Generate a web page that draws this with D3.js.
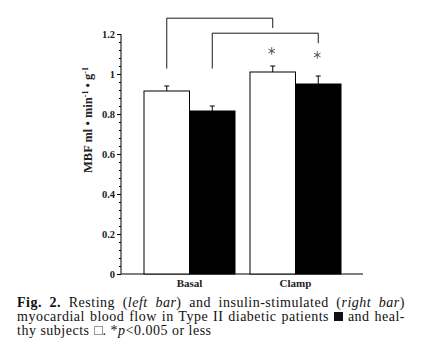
<!DOCTYPE html>
<meta charset="utf-8">
<style>
body { margin:0; background:#fff; }
#wrap { position:relative; width:447px; height:363px; }
svg { position:absolute; left:0; top:0; }
.axis text { font-family:"Liberation Serif", serif; font-weight:bold; font-size:10.5px; fill:#222; }
.axis path, .axis line { stroke:#000; }
#caption { position:absolute; left:17px; top:296px; width:388px; font-family:"Liberation Serif", serif; font-size:14px; letter-spacing:0.5px; line-height:14px; color:#111; }
#caption div { text-align:justify; text-align-last:justify; white-space:nowrap; }
#caption div.last { text-align-last:left; }
.sq { display:inline-block; width:9px; height:9px; vertical-align:0px; box-sizing:border-box; }
</style>
<body>
<div id="wrap">
  <svg width="447" height="363" id="vis"></svg>
  <div id="caption">
    <div><b>Fig. 2.</b> Resting (<i>left bar</i>) and insulin-stimulated (<i>right bar</i>)</div>
    <div>myocardial blood flow in Type II diabetic patients <span class="sq" style="background:#111"></span> and heal-</div>
    <div class="last">thy subjects <span class="sq" style="border:1px solid #999;background:#fff"></span>. *<i>p</i>&lt;0.005 or less</div>
  </div>
</div>
</body>
<script src="https://d3js.org/d3.v7.min.js"></script>
<script>
// data
var groups = ["Basal", "Clamp"];
var subjects = ["healthy", "diabetic"];
var healthyMBF = [0.915, 1.01];
var diabeticMBF = [0.815, 0.95];
var healthyErr = [0.025, 0.03];
var diabeticErr = [0.025, 0.04];
var yTicks = [0, 0.2, 0.4, 0.6, 0.8, 1, 1.2];
// brackets: from group 0 bar to group 1 bar, heights in MBF units
var bracketLeftBottom = [1.027, 1.027];
var bracketTop = [1.279, 1.204];
var bracketRightBottom = [1.23, 1.154];
var starLevel = [1.115, 1.095];

var colours = {healthy: "#fff", diabetic: "#000"};

var svg = d3.select("svg");

var y = d3.scaleLinear().domain([0, 1.2]).range([274, 34]);
var x0 = d3.scaleBand().domain(groups).range([144, 341]).paddingInner(0.1415).paddingOuter(0);
var x1 = d3.scaleBand().domain(subjects).range([0, x0.bandwidth()]).padding(0);

var axisX = 121;

var data = [];
groups.forEach(function(g, i) {
    data.push({group: g, subject: "healthy", value: healthyMBF[i], err: healthyErr[i]});
    data.push({group: g, subject: "diabetic", value: diabeticMBF[i], err: diabeticErr[i]});
});

// minor ticks
svg.append("g")
    .attr("class", "axis")
    .attr("transform", "translate(" + axisX + ",0)")
    .call(d3.axisLeft(y).tickValues(d3.range(0, 1.201, 0.04)).tickSize(2).tickFormat(""))
    .select(".domain").remove();

var yaxis = svg.append("g")
    .attr("class", "axis")
    .attr("transform", "translate(" + axisX + ",0)")
    .call(d3.axisLeft(y).tickValues(yTicks).tickSize(4).tickPadding(2).tickFormat(d3.format("~g")));
yaxis.select(".domain").attr("d", "M0," + y(1.2) + "V" + y(0));

// baseline
svg.append("line")
    .attr("x1", axisX).attr("x2", 363)
    .attr("y1", y(0)).attr("y2", y(0))
    .attr("stroke", "#000").attr("stroke-width", 1);

// bars
svg.selectAll(".bar").data(data).enter().append("rect")
    .attr("class", "bar")
    .attr("x", function(d) { return x0(d.group) + x1(d.subject); })
    .attr("y", function(d) { return y(d.value); })
    .attr("width", x1.bandwidth())
    .attr("height", function(d) { return y(0) - y(d.value); })
    .style("fill", function(d) { return colours[d.subject]; })
    .style("stroke", "#000")
    .style("stroke-width", 1);

function cx(d) { return x0(d.group) + x1(d.subject) + x1.bandwidth() / 2; }

// error bars
svg.selectAll(".err").data(data).enter().append("line")
    .attr("x1", cx).attr("x2", cx)
    .attr("y1", function(d) { return y(d.value); })
    .attr("y2", function(d) { return y(d.value + d.err); })
    .attr("stroke", "#000");
svg.selectAll(".cap").data(data).enter().append("line")
    .attr("x1", function(d) { return cx(d) - 2.5; })
    .attr("x2", function(d) { return cx(d) + 2.5; })
    .attr("y1", function(d) { return y(d.value + d.err); })
    .attr("y2", function(d) { return y(d.value + d.err); })
    .attr("stroke", "#000");

// x labels
svg.selectAll(".xlab").data(groups).enter().append("text")
    .attr("x", function(d) { return x0(d) + x0.bandwidth() / 2; })
    .attr("y", 287)
    .attr("text-anchor", "middle")
    .style("font-family", "Liberation Serif, serif")
    .style("font-weight", "bold")
    .style("font-size", "11px")
    .style("fill", "#222")
    .text(function(d) { return d; });

// brackets + stars
var star = d3.symbol().type(d3.symbolAsterisk).size(40);
subjects.forEach(function(s, i) {
    var xl = x0(groups[0]) + x1(s) + x1.bandwidth() / 2;
    var xr = x0(groups[1]) + x1(s) + x1.bandwidth() / 2;
    svg.append("path")
        .attr("d", "M" + xl + "," + y(bracketLeftBottom[i]) + "V" + y(bracketTop[i]) +
              "H" + xr + "V" + y(bracketRightBottom[i]))
        .attr("fill", "none").attr("stroke", "#000").attr("stroke-width", 0.9);
    svg.append("path")
        .attr("d", star)
        .attr("transform", "translate(" + (xr - 1) + "," + y(starLevel[i]) + ")")
        .attr("fill", "none").attr("stroke", "#555").attr("stroke-width", 1);
});

// y label
var yl = svg.append("text")
    .attr("transform", "translate(92,120) rotate(-90)")
    .attr("text-anchor", "middle")
    .style("font-family", "Liberation Serif, serif")
    .style("font-weight", "bold")
    .style("font-size", "12.5px")
    .style("fill", "#222");
yl.append("tspan").text("MBF ml \u2022 min");
yl.append("tspan").attr("baseline-shift", "super").style("font-size", "8px").text("-1");
yl.append("tspan").text(" \u2022 g");
yl.append("tspan").attr("baseline-shift", "super").style("font-size", "8px").text("-1");
</script>
